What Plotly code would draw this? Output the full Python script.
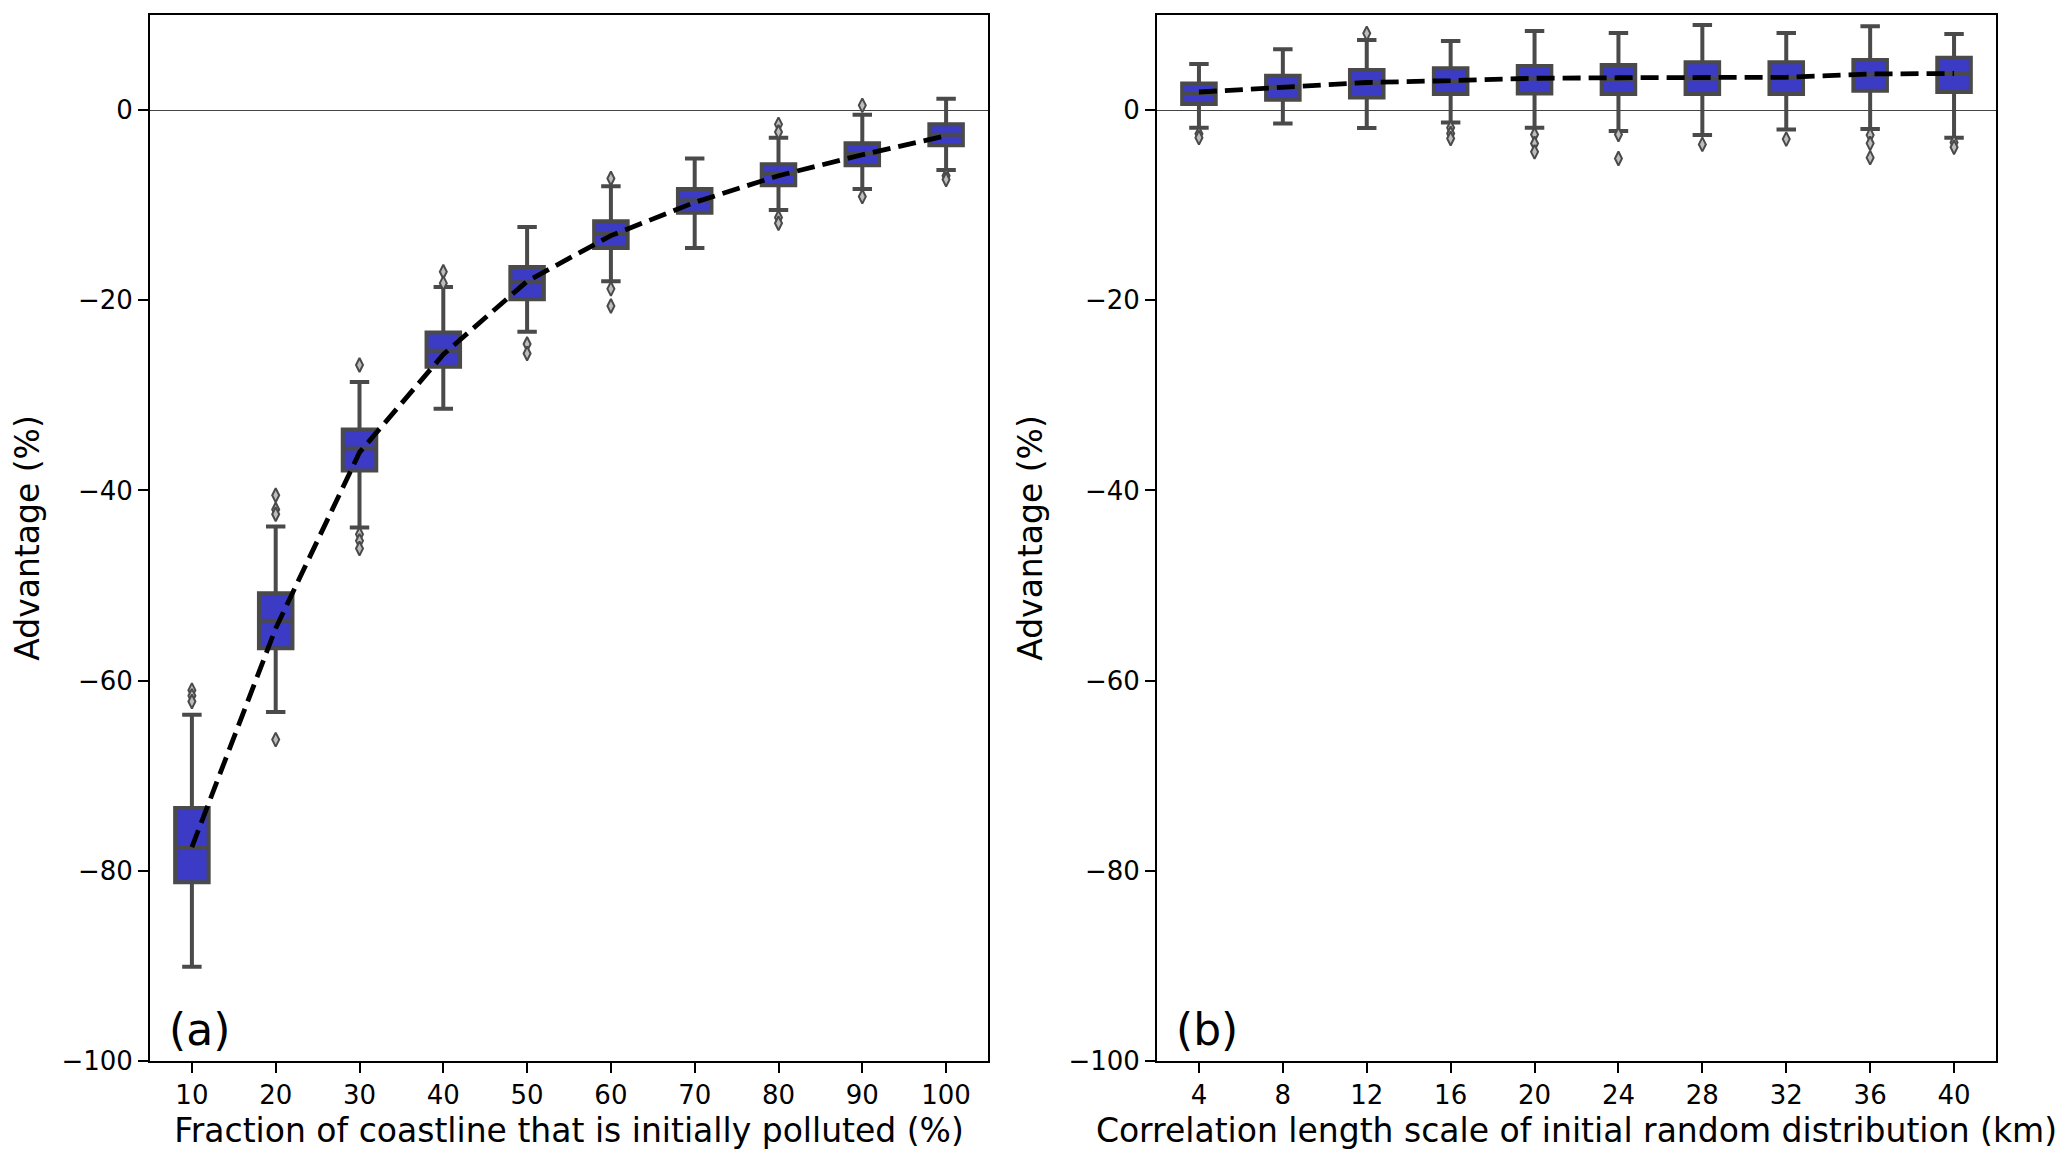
import plotly.graph_objects as go

# ---------------- data: panel (a) ----------------
cats_a = ["10", "20", "30", "40", "50", "60", "70", "80", "90", "100"]
q1_a = [-81.2, -56.6, -37.9, -27.0, -19.9, -14.5, -10.8, -7.9, -5.8, -3.7]
med_a = [-77.6, -53.7, -35.6, -25.3, -18.1, -13.0, -9.5, -6.7, -4.6, -2.6]
q3_a = [-73.4, -50.8, -33.6, -23.4, -16.5, -11.7, -8.3, -5.7, -3.5, -1.5]
low_a = [-90.1, -63.3, -43.9, -31.4, -23.3, -18.0, -14.5, -10.5, -8.3, -6.3]
up_a = [-63.6, -43.8, -28.6, -18.6, -12.3, -8.0, -5.1, -2.9, -0.5, 1.2]
mean_a = [-77.5, -54.5, -36.0, -25.7, -18.0, -13.2, -9.7, -6.9, -4.7, -2.7]
flier_a_x = ["10", "10", "10", "20", "20", "20", "20", "30", "30", "30", "30",
             "40", "40", "50", "50", "60", "60", "60", "80", "80", "80", "80",
             "90", "90", "100", "100"]
flier_a_y = [-61.0, -61.6, -62.2, -40.5, -42.0, -42.5, -66.2, -26.8, -44.6, -45.3, -46.1,
             -17.0, -18.2, -24.6, -25.6, -7.2, -18.8, -20.6, -1.5, -2.3, -11.3, -11.9,
             0.5, -9.1, -6.9, -7.3]

# ---------------- data: panel (b) ----------------
cats_b = ["4", "8", "12", "16", "20", "24", "28", "32", "36", "40"]
q1_b = [0.65, 1.1, 1.33, 1.68, 1.75, 1.68, 1.68, 1.68, 2.04, 1.9]
med_b = [1.8, 2.45, 2.88, 2.98, 3.33, 3.26, 3.33, 3.44, 3.75, 3.9]
q3_b = [2.8, 3.6, 4.21, 4.39, 4.63, 4.74, 5.02, 5.02, 5.26, 5.5]
low_b = [-1.85, -1.4, -1.89, -1.30, -1.86, -2.21, -2.63, -2.04, -2.0, -2.9]
up_b = [4.85, 6.39, 7.37, 7.26, 8.32, 8.1, 8.95, 8.1, 8.81, 8.0]
mean_b = [1.9, 2.4, 2.9, 3.1, 3.35, 3.4, 3.4, 3.45, 3.8, 3.85]
flier_b_x = ["4", "4", "12", "16", "16", "16", "20", "20", "20", "24", "24",
             "28", "32", "36", "36", "36", "40", "40"]
flier_b_y = [-2.5, -2.9, 8.07, -1.86, -2.46, -2.98, -2.56, -3.51, -4.39, -2.56, -5.09,
             -3.61, -3.05, -2.63, -3.5, -5.0, -3.4, -3.9]

y_ticks = [-100, -80, -60, -40, -20, 0]

# ---------------- styles ----------------
FONT = "DejaVu Sans"
BOX_FILL = "#3b3bc6"
GRAY = "#4a4a4a"

fig = go.Figure()


def add_panel(cats, q1, med, q3, low, up, mean, fx, fy, xa, ya):
    fig.add_trace(go.Box(
        x=cats, q1=q1, median=med, q3=q3, lowerfence=low, upperfence=up,
        boxpoints=False, width=0.4, whiskerwidth=0.58,
        fillcolor=BOX_FILL, line=dict(color=GRAY, width=4),
        xaxis=xa, yaxis=ya, showlegend=False))
    fig.add_trace(go.Scatter(
        x=fx, y=fy, mode="markers",
        marker=dict(symbol="diamond-tall", size=10, color="#bdbdbd",
                    line=dict(color=GRAY, width=2)),
        xaxis=xa, yaxis=ya, showlegend=False))
    fig.add_trace(go.Scatter(
        x=cats, y=mean, mode="lines",
        line=dict(color="black", width=4.8, dash="18px,8px"),
        xaxis=xa, yaxis=ya, showlegend=False))


add_panel(cats_a, q1_a, med_a, q3_a, low_a, up_a, mean_a, flier_a_x, flier_a_y, "x", "y")
add_panel(cats_b, q1_b, med_b, q3_b, low_b, up_b, mean_b, flier_b_x, flier_b_y, "x2", "y2")

W, H = 2067, 1161
# page body adds an 8px offset, so margins are shifted by it
ML, MR, MT, MB = 142, 79, 5, 108
pw = W - ML - MR

axis_common = dict(showline=True, mirror=True, linecolor="black", linewidth=2,
                   ticks="outside", ticklen=10, tickwidth=1.8, tickcolor="black",
                   showgrid=False, tickfont=dict(family=FONT, size=26, color="black"))

xdom_a = [0, 838 / pw]
xdom_b = [1007 / pw, 1]
TITLE_SIZE = 33

fig.update_layout(
    width=W, height=H,
    margin=dict(l=ML, r=MR, t=MT, b=MB),
    paper_bgcolor="white", plot_bgcolor="white",
    font=dict(family=FONT, color="black"),
    boxmode="overlay",
    xaxis=dict(domain=xdom_a, type="category", range=[-0.5, 9.5], anchor="y",
               title=dict(text="Fraction of coastline that is initially polluted (%)",
                          font=dict(family=FONT, size=TITLE_SIZE), standoff=10),
               **axis_common),
    yaxis=dict(domain=[0, 1], range=[-100, 10], anchor="x", tickvals=y_ticks,
               zeroline=True, zerolinecolor="#444444", zerolinewidth=1.2,
               title=dict(text="Advantage (%)", font=dict(family=FONT, size=TITLE_SIZE), standoff=16),
               **axis_common),
    xaxis2=dict(domain=xdom_b, type="category", range=[-0.5, 9.5], anchor="y2",
                title=dict(text="Correlation length scale of initial random distribution (km)",
                           font=dict(family=FONT, size=TITLE_SIZE), standoff=10),
                **axis_common),
    yaxis2=dict(domain=[0, 1], range=[-100, 10], anchor="x2", tickvals=y_ticks,
                zeroline=True, zerolinecolor="#444444", zerolinewidth=1.2,
                title=dict(text="Advantage (%)", font=dict(family=FONT, size=TITLE_SIZE), standoff=16),
                **axis_common),
    annotations=[
        dict(text="(a)", xref="x domain", yref="y domain", x=0.02, y=0.03,
             xanchor="left", yanchor="middle", showarrow=False,
             font=dict(family=FONT, size=44, color="black")),
        dict(text="(b)", xref="x2 domain", yref="y2 domain", x=0.02, y=0.03,
             xanchor="left", yanchor="middle", showarrow=False,
             font=dict(family=FONT, size=44, color="black")),
    ],
)

fig.write_html("out.html")
